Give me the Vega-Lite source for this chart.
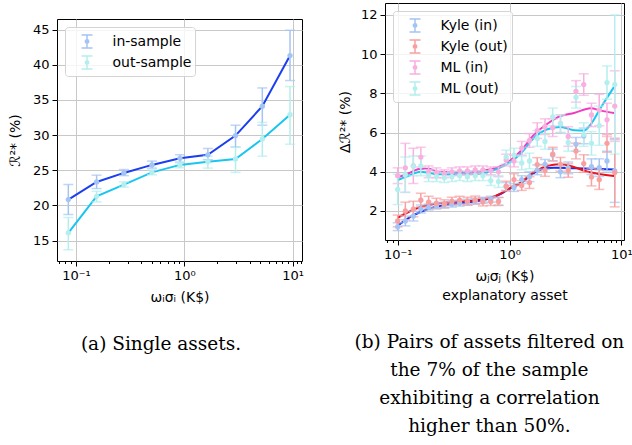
{
 "$schema": "https://vega.github.io/schema/vega-lite/v6.json",
 "background": "white",
 "padding": {"left": 7, "top": 2, "right": 0, "bottom": 0},
 "spacing": 32,
 "config": {
  "font": "DejaVu Sans",
  "view": {"stroke": "black", "strokeWidth": 1},
  "axis": {"domain": false, "tickColor": "black", "tickWidth": 1, "labelColor": "black", "titleColor": "black", "labelFont": "DejaVu Sans", "labelFontSize": 13, "titleFont": "DejaVu Sans", "titleFontSize": 14, "titleFontWeight": "normal", "gridColor": "#c8c8c8", "gridWidth": 1, "tickSize": 5, "labelPadding": 3},
  "legend": {"orient": "top-left", "offset": 8, "symbolType": "M0.75,-0.65V0.65M0.2,-0.65H1.3M0.2,0.65H1.3M0.92,0A0.17,0.17,0,1,1,0.58,0A0.17,0.17,0,1,1,0.92,0M0.83,0A0.08,0.08,0,1,1,0.67,0A0.08,0.08,0,1,1,0.83,0", "symbolSize": 400, "symbolStrokeWidth": 1.5, "symbolOpacity": 1, "labelFont": "DejaVu Sans", "labelFontSize": 14, "labelColor": "black", "labelOffset": 22, "padding": 3.5, "rowPadding": 0, "fillColor": "rgba(255,255,255,0.8)", "strokeColor": "#d4d4d4", "cornerRadius": 3},
  "title": {"font": "DejaVu Serif", "fontSize": 18.5, "fontWeight": "normal", "color": "black"}
 },
 "datasets": {
  "left": [
   {"s":"in-sample","x":0.085,"y":20.83,"lo":18.7,"hi":22.96},
   {"s":"in-sample","x":0.155,"y":23.34,"lo":22.4,"hi":24.3},
   {"s":"in-sample","x":0.277,"y":24.62,"lo":24.24,"hi":25.1},
   {"s":"in-sample","x":0.503,"y":25.76,"lo":25.3,"hi":26.3},
   {"s":"in-sample","x":0.912,"y":26.7,"lo":26.1,"hi":27.2},
   {"s":"in-sample","x":1.65,"y":27.2,"lo":26.5,"hi":28.1},
   {"s":"in-sample","x":2.97,"y":29.93,"lo":28.3,"hi":31.4},
   {"s":"in-sample","x":5.25,"y":34.1,"lo":31.4,"hi":36.7},
   {"s":"in-sample","x":9.46,"y":41.3,"lo":37.75,"hi":44.9},
   {"s":"out-sample","x":0.085,"y":16.1,"lo":13.7,"hi":18.3},
   {"s":"out-sample","x":0.155,"y":21.3,"lo":20.5,"hi":22.0},
   {"s":"out-sample","x":0.277,"y":22.96,"lo":22.6,"hi":23.35},
   {"s":"out-sample","x":0.503,"y":24.7,"lo":24.35,"hi":25.05},
   {"s":"out-sample","x":0.912,"y":25.76,"lo":25.35,"hi":26.2},
   {"s":"out-sample","x":1.65,"y":26.2,"lo":25.3,"hi":27.0},
   {"s":"out-sample","x":2.97,"y":26.6,"lo":24.7,"hi":28.3},
   {"s":"out-sample","x":5.25,"y":29.45,"lo":27.0,"hi":31.8},
   {"s":"out-sample","x":9.46,"y":32.9,"lo":28.7,"hi":36.9}
  ],
  "rightFit": [
   {"s":"Kyle (in)","x":0.1,"y":1.25},{"s":"Kyle (in)","x":0.13,"y":1.7},{"s":"Kyle (in)","x":0.16,"y":1.95},{"s":"Kyle (in)","x":0.2,"y":2.15},{"s":"Kyle (in)","x":0.3,"y":2.35},{"s":"Kyle (in)","x":0.5,"y":2.5},{"s":"Kyle (in)","x":0.65,"y":2.62},{"s":"Kyle (in)","x":0.84,"y":2.88},{"s":"Kyle (in)","x":1.0,"y":3.13},{"s":"Kyle (in)","x":1.26,"y":3.42},{"s":"Kyle (in)","x":1.66,"y":3.95},{"s":"Kyle (in)","x":2.0,"y":4.15},{"s":"Kyle (in)","x":2.5,"y":4.2},{"s":"Kyle (in)","x":4.0,"y":4.18},{"s":"Kyle (in)","x":8.6,"y":4.12},
   {"s":"Kyle (out)","x":0.1,"y":1.65},{"s":"Kyle (out)","x":0.13,"y":2.0},{"s":"Kyle (out)","x":0.16,"y":2.2},{"s":"Kyle (out)","x":0.2,"y":2.33},{"s":"Kyle (out)","x":0.3,"y":2.45},{"s":"Kyle (out)","x":0.5,"y":2.55},{"s":"Kyle (out)","x":0.65,"y":2.65},{"s":"Kyle (out)","x":0.84,"y":2.9},{"s":"Kyle (out)","x":1.0,"y":3.15},{"s":"Kyle (out)","x":1.26,"y":3.45},{"s":"Kyle (out)","x":1.66,"y":4.0},{"s":"Kyle (out)","x":2.18,"y":4.3},{"s":"Kyle (out)","x":2.8,"y":4.38},{"s":"Kyle (out)","x":3.3,"y":4.33},{"s":"Kyle (out)","x":5.0,"y":4.0},{"s":"Kyle (out)","x":8.6,"y":3.78},
   {"s":"ML (in)","x":0.1,"y":3.72},{"s":"ML (in)","x":0.123,"y":3.9},{"s":"ML (in)","x":0.16,"y":4.15},{"s":"ML (in)","x":0.19,"y":4.15},{"s":"ML (in)","x":0.23,"y":4.0},{"s":"ML (in)","x":0.32,"y":3.98},{"s":"ML (in)","x":0.55,"y":4.04},{"s":"ML (in)","x":0.68,"y":4.13},{"s":"ML (in)","x":0.84,"y":4.3},{"s":"ML (in)","x":1.0,"y":4.55},{"s":"ML (in)","x":1.26,"y":5.06},{"s":"ML (in)","x":1.66,"y":5.9},{"s":"ML (in)","x":2.18,"y":6.45},{"s":"ML (in)","x":2.87,"y":6.85},{"s":"ML (in)","x":3.78,"y":7.0},{"s":"ML (in)","x":5.32,"y":7.24},{"s":"ML (in)","x":6.54,"y":7.12},{"s":"ML (in)","x":8.6,"y":7.0},
   {"s":"ML (out)","x":0.1,"y":3.58},{"s":"ML (out)","x":0.123,"y":3.78},{"s":"ML (out)","x":0.16,"y":4.0},{"s":"ML (out)","x":0.19,"y":3.95},{"s":"ML (out)","x":0.23,"y":3.87},{"s":"ML (out)","x":0.32,"y":3.87},{"s":"ML (out)","x":0.55,"y":3.9},{"s":"ML (out)","x":0.68,"y":4.03},{"s":"ML (out)","x":0.84,"y":4.24},{"s":"ML (out)","x":1.0,"y":4.47},{"s":"ML (out)","x":1.26,"y":4.93},{"s":"ML (out)","x":1.66,"y":5.74},{"s":"ML (out)","x":2.18,"y":6.17},{"s":"ML (out)","x":2.87,"y":6.29},{"s":"ML (out)","x":3.78,"y":6.12},{"s":"ML (out)","x":4.64,"y":6.1},{"s":"ML (out)","x":5.32,"y":6.42},{"s":"ML (out)","x":6.54,"y":7.27},{"s":"ML (out)","x":8.6,"y":8.33}
  ],
  "rightPts": [
   {"s":"Kyle (in)","x":0.100,"y":1.2,"lo":1.0,"hi":1.4},
   {"s":"Kyle (in)","x":0.117,"y":1.49,"lo":1.24,"hi":1.74},
   {"s":"Kyle (in)","x":0.138,"y":1.74,"lo":1.49,"hi":1.99},
   {"s":"Kyle (in)","x":0.161,"y":2.1,"lo":1.9,"hi":2.3},
   {"s":"Kyle (in)","x":0.189,"y":2.2,"lo":2.05,"hi":2.35},
   {"s":"Kyle (in)","x":0.222,"y":2.25,"lo":2.1,"hi":2.4},
   {"s":"Kyle (in)","x":0.261,"y":2.3,"lo":2.15,"hi":2.45},
   {"s":"Kyle (in)","x":0.305,"y":2.35,"lo":2.2,"hi":2.5},
   {"s":"Kyle (in)","x":0.358,"y":2.4,"lo":2.25,"hi":2.55},
   {"s":"Kyle (in)","x":0.420,"y":2.45,"lo":2.3,"hi":2.6},
   {"s":"Kyle (in)","x":0.493,"y":2.5,"lo":2.35,"hi":2.65},
   {"s":"Kyle (in)","x":0.578,"y":2.55,"lo":2.4,"hi":2.7},
   {"s":"Kyle (in)","x":0.679,"y":2.6,"lo":2.45,"hi":2.75},
   {"s":"Kyle (in)","x":0.796,"y":2.5,"lo":2.3,"hi":2.7},
   {"s":"Kyle (in)","x":0.933,"y":3.25,"lo":3.05,"hi":3.45},
   {"s":"Kyle (in)","x":1.096,"y":3.2,"lo":3.0,"hi":3.4},
   {"s":"Kyle (in)","x":1.285,"y":3.6,"lo":3.4,"hi":3.8},
   {"s":"Kyle (in)","x":1.507,"y":3.75,"lo":3.5,"hi":4.0},
   {"s":"Kyle (in)","x":1.768,"y":4.1,"lo":3.85,"hi":4.35},
   {"s":"Kyle (in)","x":2.075,"y":4.38,"lo":4.13,"hi":4.63},
   {"s":"Kyle (in)","x":2.432,"y":4.86,"lo":4.56,"hi":5.16},
   {"s":"Kyle (in)","x":2.853,"y":4.0,"lo":3.7,"hi":4.3},
   {"s":"Kyle (in)","x":3.346,"y":4.2,"lo":3.9,"hi":4.5},
   {"s":"Kyle (in)","x":3.926,"y":5.4,"lo":5.05,"hi":5.75},
   {"s":"Kyle (in)","x":4.605,"y":5.83,"lo":5.43,"hi":6.23},
   {"s":"Kyle (in)","x":5.401,"y":4.26,"lo":3.86,"hi":4.66},
   {"s":"Kyle (in)","x":6.336,"y":4.21,"lo":3.76,"hi":4.66},
   {"s":"Kyle (in)","x":7.432,"y":4.55,"lo":4.05,"hi":5.05},
   {"s":"Kyle (in)","x":8.718,"y":4.04,"lo":2.44,"hi":5.64},
   {"s":"Kyle (out)","x":0.100,"y":1.49,"lo":1.19,"hi":1.79},
   {"s":"Kyle (out)","x":0.117,"y":2.0,"lo":1.55,"hi":2.45},
   {"s":"Kyle (out)","x":0.138,"y":2.1,"lo":1.7,"hi":2.5},
   {"s":"Kyle (out)","x":0.161,"y":2.55,"lo":2.2,"hi":2.9},
   {"s":"Kyle (out)","x":0.189,"y":2.45,"lo":2.15,"hi":2.75},
   {"s":"Kyle (out)","x":0.222,"y":2.4,"lo":2.15,"hi":2.65},
   {"s":"Kyle (out)","x":0.261,"y":2.37,"lo":2.17,"hi":2.57},
   {"s":"Kyle (out)","x":0.305,"y":2.5,"lo":2.3,"hi":2.7},
   {"s":"Kyle (out)","x":0.358,"y":2.55,"lo":2.35,"hi":2.75},
   {"s":"Kyle (out)","x":0.420,"y":2.5,"lo":2.3,"hi":2.7},
   {"s":"Kyle (out)","x":0.493,"y":2.56,"lo":2.36,"hi":2.76},
   {"s":"Kyle (out)","x":0.578,"y":2.46,"lo":2.26,"hi":2.66},
   {"s":"Kyle (out)","x":0.679,"y":2.48,"lo":2.28,"hi":2.68},
   {"s":"Kyle (out)","x":0.796,"y":2.48,"lo":2.28,"hi":2.68},
   {"s":"Kyle (out)","x":0.933,"y":3.27,"lo":3.02,"hi":3.52},
   {"s":"Kyle (out)","x":1.096,"y":3.6,"lo":3.3,"hi":3.9},
   {"s":"Kyle (out)","x":1.285,"y":3.3,"lo":3.05,"hi":3.55},
   {"s":"Kyle (out)","x":1.507,"y":3.45,"lo":3.15,"hi":3.75},
   {"s":"Kyle (out)","x":1.768,"y":4.37,"lo":4.02,"hi":4.72},
   {"s":"Kyle (out)","x":2.075,"y":4.07,"lo":3.77,"hi":4.37},
   {"s":"Kyle (out)","x":2.432,"y":4.9,"lo":4.55,"hi":5.25},
   {"s":"Kyle (out)","x":2.853,"y":4.38,"lo":4.03,"hi":4.73},
   {"s":"Kyle (out)","x":3.346,"y":4.07,"lo":3.72,"hi":4.42},
   {"s":"Kyle (out)","x":3.926,"y":5.06,"lo":4.66,"hi":5.46},
   {"s":"Kyle (out)","x":4.605,"y":4.42,"lo":3.97,"hi":4.87},
   {"s":"Kyle (out)","x":5.401,"y":3.73,"lo":3.28,"hi":4.18},
   {"s":"Kyle (out)","x":6.336,"y":3.6,"lo":3.1,"hi":4.1},
   {"s":"Kyle (out)","x":7.432,"y":5.45,"lo":5.0,"hi":5.9},
   {"s":"Kyle (out)","x":8.718,"y":3.96,"lo":2.21,"hi":5.71},
   {"s":"ML (in)","x":0.100,"y":3.8,"lo":3.4,"hi":4.2},
   {"s":"ML (in)","x":0.117,"y":4.2,"lo":2.95,"hi":5.45},
   {"s":"ML (in)","x":0.138,"y":4.3,"lo":3.4,"hi":5.2},
   {"s":"ML (in)","x":0.161,"y":4.75,"lo":4.25,"hi":5.25},
   {"s":"ML (in)","x":0.189,"y":4.0,"lo":3.7,"hi":4.3},
   {"s":"ML (in)","x":0.222,"y":3.95,"lo":3.7,"hi":4.2},
   {"s":"ML (in)","x":0.261,"y":3.9,"lo":3.7,"hi":4.1},
   {"s":"ML (in)","x":0.305,"y":4.0,"lo":3.8,"hi":4.2},
   {"s":"ML (in)","x":0.358,"y":4.05,"lo":3.85,"hi":4.25},
   {"s":"ML (in)","x":0.420,"y":4.05,"lo":3.85,"hi":4.25},
   {"s":"ML (in)","x":0.493,"y":4.1,"lo":3.9,"hi":4.3},
   {"s":"ML (in)","x":0.578,"y":4.1,"lo":3.9,"hi":4.3},
   {"s":"ML (in)","x":0.679,"y":4.05,"lo":3.85,"hi":4.25},
   {"s":"ML (in)","x":0.796,"y":4.0,"lo":3.75,"hi":4.25},
   {"s":"ML (in)","x":0.933,"y":4.6,"lo":4.3,"hi":4.9},
   {"s":"ML (in)","x":1.096,"y":4.55,"lo":4.25,"hi":4.85},
   {"s":"ML (in)","x":1.285,"y":5.2,"lo":4.85,"hi":5.55},
   {"s":"ML (in)","x":1.507,"y":5.6,"lo":5.25,"hi":5.95},
   {"s":"ML (in)","x":1.768,"y":6.1,"lo":5.7,"hi":6.5},
   {"s":"ML (in)","x":2.075,"y":6.3,"lo":5.9,"hi":6.7},
   {"s":"ML (in)","x":2.432,"y":6.25,"lo":5.8,"hi":6.7},
   {"s":"ML (in)","x":2.853,"y":6.45,"lo":6.0,"hi":6.9},
   {"s":"ML (in)","x":3.346,"y":5.8,"lo":5.3,"hi":6.3},
   {"s":"ML (in)","x":3.926,"y":8.1,"lo":7.55,"hi":8.65},
   {"s":"ML (in)","x":4.605,"y":8.45,"lo":7.9,"hi":9.0},
   {"s":"ML (in)","x":5.401,"y":6.9,"lo":6.3,"hi":7.5},
   {"s":"ML (in)","x":6.336,"y":7.15,"lo":6.35,"hi":7.95},
   {"s":"ML (in)","x":7.432,"y":6.65,"lo":5.8,"hi":7.5},
   {"s":"ML (in)","x":8.718,"y":7.35,"lo":5.55,"hi":9.15},
   {"s":"ML (out)","x":0.100,"y":3.1,"lo":2.33,"hi":3.87},
   {"s":"ML (out)","x":0.117,"y":3.85,"lo":2.95,"hi":4.75},
   {"s":"ML (out)","x":0.138,"y":4.3,"lo":3.8,"hi":4.8},
   {"s":"ML (out)","x":0.161,"y":4.3,"lo":3.8,"hi":4.8},
   {"s":"ML (out)","x":0.189,"y":3.8,"lo":3.5,"hi":4.1},
   {"s":"ML (out)","x":0.222,"y":3.75,"lo":3.5,"hi":4.0},
   {"s":"ML (out)","x":0.261,"y":3.7,"lo":3.45,"hi":3.95},
   {"s":"ML (out)","x":0.305,"y":3.75,"lo":3.5,"hi":4.0},
   {"s":"ML (out)","x":0.358,"y":3.8,"lo":3.55,"hi":4.05},
   {"s":"ML (out)","x":0.420,"y":3.75,"lo":3.5,"hi":4.0},
   {"s":"ML (out)","x":0.493,"y":3.8,"lo":3.55,"hi":4.05},
   {"s":"ML (out)","x":0.578,"y":3.8,"lo":3.55,"hi":4.05},
   {"s":"ML (out)","x":0.679,"y":3.55,"lo":3.3,"hi":3.8},
   {"s":"ML (out)","x":0.796,"y":3.5,"lo":3.2,"hi":3.8},
   {"s":"ML (out)","x":0.933,"y":4.75,"lo":4.4,"hi":5.1},
   {"s":"ML (out)","x":1.096,"y":4.85,"lo":4.5,"hi":5.2},
   {"s":"ML (out)","x":1.285,"y":4.45,"lo":4.1,"hi":4.8},
   {"s":"ML (out)","x":1.507,"y":4.55,"lo":4.15,"hi":4.95},
   {"s":"ML (out)","x":1.768,"y":5.7,"lo":5.3,"hi":6.1},
   {"s":"ML (out)","x":2.075,"y":5.55,"lo":5.15,"hi":5.95},
   {"s":"ML (out)","x":2.432,"y":6.8,"lo":6.35,"hi":7.25},
   {"s":"ML (out)","x":2.853,"y":6.45,"lo":6.0,"hi":6.9},
   {"s":"ML (out)","x":3.346,"y":5.5,"lo":5.05,"hi":5.95},
   {"s":"ML (out)","x":3.926,"y":7.8,"lo":7.25,"hi":8.35},
   {"s":"ML (out)","x":4.605,"y":5.9,"lo":5.3,"hi":6.5},
   {"s":"ML (out)","x":5.401,"y":5.45,"lo":4.85,"hi":6.05},
   {"s":"ML (out)","x":6.336,"y":6.35,"lo":5.35,"hi":7.35},
   {"s":"ML (out)","x":7.432,"y":8.55,"lo":7.7,"hi":9.4},
   {"s":"ML (out)","x":8.718,"y":8.45,"lo":4.9,"hi":12.0}
  ]
 },
 "resolve": {"scale": {"x": "independent", "y": "independent", "color": "independent"}, "legend": {"color": "independent"}},
 "hconcat": [
  {
   "spacing": 10,
   "resolve": {"scale": {"x": "independent", "y": "independent", "color": "independent"}, "legend": {"color": "independent"}},
   "vconcat": [
    {"width": 245, "height": 4, "view": {"stroke": null}, "data": {"values": [{"a": 1}]}, "mark": {"type": "point", "opacity": 0}},
    {
     "width": 245, "height": 242,
     "title": {"text": "(a) Single assets.", "orient": "bottom", "anchor": "middle", "frame": "bounds", "offset": 31, "dx": 5},
     "data": {"name": "left"},
     "encoding": {
      "x": {"field": "x", "type": "quantitative", "title": "ωᵢσᵢ (K$)",
       "scale": {"type": "log", "domain": [0.0668, 12.2], "nice": false},
       "axis": {"values": [0.07,0.08,0.09,0.1,0.2,0.3,0.4,0.5,0.6,0.7,0.8,0.9,1,2,3,4,5,6,7,8,9,10,11,12],
        "labelExpr": "datum.value == 0.1 ? '10⁻¹' : datum.value == 1 ? '10⁰' : datum.value == 10 ? '10¹' : ''",
        "tickSize": {"condition": {"test": "datum.value == 0.1 || datum.value == 1 || datum.value == 10", "value": 5}, "value": 2.5},
        "gridOpacity": {"condition": {"test": "datum.value == 0.1 || datum.value == 1 || datum.value == 10", "value": 1}, "value": 0},
        "labelOverlap": false, "labelFlush": false, "titlePadding": 8}},
      "y": {"field": "y", "type": "quantitative", "title": "ℛ²* (%)", "scale": {"domain": [12.1, 46.5], "nice": false, "zero": false}, "axis": {"values": [15,20,25,30,35,40,45], "titlePadding": 10}}
     },
     "layer": [
      {"transform": [{"filter": "datum.s == 'in-sample'"}], "mark": {"type": "line", "strokeWidth": 2, "color": "#1a3ef0"}},
      {"transform": [{"filter": "datum.s == 'out-sample'"}], "mark": {"type": "line", "strokeWidth": 2, "color": "#1ac6f0"}},
      {"mark": {"type": "errorbar", "ticks": {"size": 10}, "thickness": 1.5},
       "encoding": {
        "y": {"field": "lo", "type": "quantitative", "title": "ℛ²* (%)"},
        "y2": {"field": "hi"},
        "color": {"field": "s", "type": "nominal", "scale": {"domain": ["in-sample", "out-sample"], "range": ["#a4c4f4", "#b4eeee"]}, "legend": {"title": null, "orient": "top-left"}}}},
      {"mark": {"type": "point", "filled": true, "size": 28, "opacity": 1},
       "encoding": {
        "color": {"field": "s", "type": "nominal", "legend": {"title": null, "orient": "top-left"}}}}
     ]
    }
   ]
  },
  {
   "width": 239, "height": 237,
   "title": {"text": ["(b) Pairs of assets filtered on", "the 7% of the sample", "exhibiting a correlation", "higher than 50%."], "orient": "bottom", "anchor": "middle", "frame": "bounds", "offset": 31, "lineHeight": 28, "dx": 4},
   "encoding": {
    "x": {"field": "x", "type": "quantitative", "title": ["ωⱼσⱼ (K$)", "explanatory asset"],
     "scale": {"type": "log", "domain": [0.077, 10.55], "nice": false},
     "axis": {"values": [0.08,0.09,0.1,0.2,0.3,0.4,0.5,0.6,0.7,0.8,0.9,1,2,3,4,5,6,7,8,9,10],
      "labelExpr": "datum.value == 0.1 ? '10⁻¹' : datum.value == 1 ? '10⁰' : datum.value == 10 ? '10¹' : ''",
      "tickSize": {"condition": {"test": "datum.value == 0.1 || datum.value == 1 || datum.value == 10", "value": 5}, "value": 2.5},
      "gridOpacity": {"condition": {"test": "datum.value == 0.1 || datum.value == 1 || datum.value == 10", "value": 1}, "value": 0},
      "labelOverlap": false, "labelFlush": false, "titlePadding": 8, "titleLineHeight": 19}},
    "y": {"field": "y", "type": "quantitative", "title": "Δℛ²* (%)", "scale": {"domain": [0.52, 12.61], "nice": false, "zero": false}, "axis": {"values": [2,4,6,8,10,12], "titlePadding": 8}}
   },
   "layer": [
    {"data": {"name": "rightFit"}, "transform": [{"filter": "datum.s == 'Kyle (in)'"}], "mark": {"type": "line", "strokeWidth": 2, "interpolate": "monotone", "color": "#1133ee"}},
    {"data": {"name": "rightFit"}, "transform": [{"filter": "datum.s == 'Kyle (out)'"}], "mark": {"type": "line", "strokeWidth": 2, "interpolate": "monotone", "color": "#e8101e"}},
    {"data": {"name": "rightFit"}, "transform": [{"filter": "datum.s == 'ML (in)'"}], "mark": {"type": "line", "strokeWidth": 2, "interpolate": "monotone", "color": "#f03cc0"}},
    {"data": {"name": "rightFit"}, "transform": [{"filter": "datum.s == 'ML (out)'"}], "mark": {"type": "line", "strokeWidth": 2, "interpolate": "monotone", "color": "#18c8f0"}},
    {"data": {"name": "rightPts"},
     "mark": {"type": "errorbar", "ticks": {"size": 10}, "thickness": 1.5},
     "encoding": {
      "y": {"field": "lo", "type": "quantitative", "title": "Δℛ²* (%)"},
      "y2": {"field": "hi"},
      "color": {"field": "s", "type": "nominal", "scale": {"domain": ["Kyle (in)", "Kyle (out)", "ML (in)", "ML (out)"], "range": ["#a4c4f4", "#f8a0a0", "#f8b0e0", "#b4eeee"]}, "legend": {"title": null, "orient": "top-left"}}}},
    {"data": {"name": "rightPts"},
     "mark": {"type": "point", "filled": true, "size": 28, "opacity": 1},
     "encoding": {
      "color": {"field": "s", "type": "nominal", "legend": {"title": null, "orient": "top-left"}}}}
   ]
  }
 ]
}
